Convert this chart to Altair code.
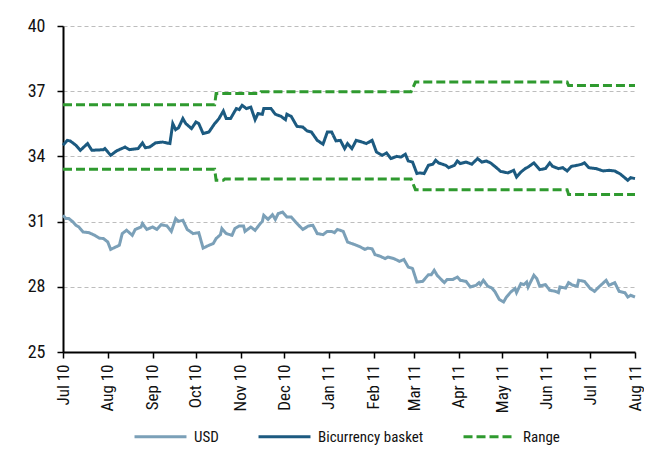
import altair as alt
import pandas as pd

# ---- data ----
basket_dates = [
    "2010-07-01","2010-07-04","2010-07-06","2010-07-10","2010-07-13","2010-07-18","2010-07-21","2010-07-29",
    "2010-07-30","2010-08-03","2010-08-07","2010-08-13","2010-08-16","2010-08-22","2010-08-25","2010-08-27",
    "2010-08-30","2010-09-03","2010-09-08","2010-09-13","2010-09-15","2010-09-17","2010-09-19","2010-09-22",
    "2010-09-24","2010-09-28","2010-10-01","2010-10-03","2010-10-06","2010-10-10","2010-10-14","2010-10-17",
    "2010-10-20","2010-10-22","2010-10-25","2010-10-29","2010-10-31","2010-11-02","2010-11-05","2010-11-08",
    "2010-11-11","2010-11-13","2010-11-16","2010-11-17","2010-11-22","2010-11-25","2010-11-29","2010-12-02",
    "2010-12-03","2010-12-06","2010-12-10","2010-12-14","2010-12-17","2010-12-20","2010-12-24","2010-12-28",
    "2010-12-31","2011-01-03","2011-01-06","2011-01-09","2011-01-12","2011-01-14","2011-01-17","2011-01-20",
    "2011-01-24","2011-01-27","2011-01-31","2011-02-03","2011-02-07","2011-02-10","2011-02-13","2011-02-17",
    "2011-02-20","2011-02-23","2011-02-25","2011-02-28","2011-03-03","2011-03-05","2011-03-08","2011-03-11",
    "2011-03-14","2011-03-16","2011-03-18","2011-03-23","2011-03-25","2011-03-29","2011-03-31","2011-04-02",
    "2011-04-06","2011-04-10","2011-04-14","2011-04-17","2011-04-20","2011-04-23","2011-04-26","2011-04-30",
    "2011-05-05","2011-05-09","2011-05-11","2011-05-14","2011-05-17","2011-05-19","2011-05-23","2011-05-27",
    "2011-05-31","2011-06-03","2011-06-05","2011-06-09","2011-06-12","2011-06-15","2011-06-18","2011-06-22",
    "2011-06-25","2011-06-27","2011-06-30","2011-07-05","2011-07-10","2011-07-14","2011-07-18","2011-07-22",
    "2011-07-27","2011-07-29","2011-08-01",
]
basket_values = [
    34.51,34.74,34.71,34.51,34.28,34.59,34.28,34.31,
    34.36,34.05,34.25,34.43,34.31,34.36,34.62,34.40,
    34.43,34.62,34.66,34.59,35.51,35.23,35.32,35.74,
    35.51,35.28,35.58,35.51,35.05,35.12,35.51,35.74,
    36.09,35.74,35.74,36.20,36.15,36.35,36.20,36.27,
    35.69,35.97,35.94,36.20,36.20,35.94,35.84,35.69,
    35.94,35.84,35.38,35.35,35.17,35.12,34.74,34.56,
    35.12,35.12,34.71,34.74,34.36,34.59,34.36,34.74,
    34.66,34.59,34.74,34.20,34.05,34.16,33.90,34.00,
    33.97,34.10,33.79,33.74,33.21,33.24,33.21,33.59,
    33.64,33.82,33.70,33.59,33.48,33.59,33.79,33.67,
    33.74,33.64,33.90,33.74,33.79,33.70,33.54,33.31,
    33.24,33.36,33.05,33.28,33.44,33.51,33.70,33.39,
    33.44,33.70,33.54,33.44,33.48,33.33,33.54,33.59,
    33.64,33.70,33.48,33.44,33.33,33.36,33.33,33.18,
    32.90,33.02,32.98,
]

usd_dates = [
    "2010-07-01","2010-07-03","2010-07-05","2010-07-08","2010-07-10","2010-07-12","2010-07-15","2010-07-19",
    "2010-07-23","2010-07-26","2010-07-29","2010-08-01","2010-08-03","2010-08-09","2010-08-11","2010-08-14",
    "2010-08-18","2010-08-20","2010-08-24","2010-08-25","2010-08-28","2010-09-01","2010-09-04","2010-09-07",
    "2010-09-11","2010-09-14","2010-09-17","2010-09-19","2010-09-22","2010-09-25","2010-09-29","2010-10-03",
    "2010-10-06","2010-10-10","2010-10-13","2010-10-15","2010-10-18","2010-10-19","2010-10-22","2010-10-26",
    "2010-10-28","2010-10-31","2010-11-03","2010-11-04","2010-11-08","2010-11-11","2010-11-14","2010-11-16",
    "2010-11-17","2010-11-20","2010-11-23","2010-11-25","2010-11-27","2010-11-30","2010-12-03","2010-12-06",
    "2010-12-10","2010-12-14","2010-12-18","2010-12-21","2010-12-24","2010-12-28","2010-12-31","2011-01-03",
    "2011-01-05","2011-01-07","2011-01-11","2011-01-14","2011-01-16","2011-01-19","2011-01-23","2011-01-26",
    "2011-01-28","2011-01-31","2011-02-02","2011-02-05","2011-02-09","2011-02-11","2011-02-15","2011-02-19",
    "2011-02-22","2011-02-25","2011-02-28","2011-03-03","2011-03-07","2011-03-11","2011-03-13","2011-03-15",
    "2011-03-17","2011-03-22","2011-03-24","2011-03-28","2011-03-31","2011-04-02","2011-04-06","2011-04-09",
    "2011-04-13","2011-04-15","2011-04-16","2011-04-18","2011-04-21","2011-04-24","2011-04-26","2011-04-29",
    "2011-05-02","2011-05-04","2011-05-07","2011-05-10","2011-05-11","2011-05-14","2011-05-16","2011-05-18",
    "2011-05-19","2011-05-23","2011-05-25","2011-05-27","2011-05-31","2011-06-03","2011-06-07","2011-06-09",
    "2011-06-10","2011-06-14","2011-06-16","2011-06-19","2011-06-22","2011-06-23","2011-06-27","2011-07-01",
    "2011-07-04","2011-07-07","2011-07-12","2011-07-14","2011-07-18","2011-07-21","2011-07-25","2011-07-27",
    "2011-07-29","2011-08-01",
]
usd_values = [
    31.29,31.14,31.14,30.98,30.83,30.75,30.52,30.49,
    30.37,30.24,30.22,30.06,29.72,29.91,30.45,30.60,
    30.37,30.64,30.75,30.91,30.64,30.75,30.64,30.86,
    30.80,30.55,31.14,31.01,31.06,30.64,30.45,30.49,
    29.78,29.91,29.99,30.22,30.40,30.68,30.45,30.37,
    30.68,30.80,30.80,30.55,30.75,30.60,30.86,31.01,
    31.29,31.10,31.32,31.10,31.37,31.44,31.21,31.21,
    30.91,30.64,30.80,30.83,30.45,30.40,30.55,30.55,
    30.49,30.64,30.55,30.06,30.01,29.94,29.83,29.72,
    29.78,29.75,29.48,29.42,29.30,29.37,29.30,29.17,
    29.26,28.91,28.84,28.22,28.25,28.56,28.56,28.76,
    28.53,28.19,28.34,28.34,28.45,28.30,28.25,27.99,
    28.07,28.19,28.10,28.30,28.03,27.94,27.78,27.42,
    27.30,27.53,27.76,27.92,27.73,28.15,28.10,28.22,
    27.99,28.53,28.38,28.03,28.10,27.84,27.79,27.73,
    27.99,27.94,28.19,28.07,28.03,28.30,28.25,27.92,
    27.79,27.99,28.30,28.07,28.19,27.79,27.73,27.53,
    27.61,27.53,
]

range_upper_dates = ["2010-07-01","2010-10-14","2010-10-15","2010-11-14","2010-11-15",
                     "2011-02-27","2011-03-02","2011-06-15","2011-06-16","2011-08-01"]
range_upper_values = [36.38,36.38,36.89,36.89,36.97,36.98,37.42,37.42,37.26,37.26]
range_lower_dates = ["2010-07-01","2010-10-14","2010-10-15","2010-10-20","2010-10-21",
                     "2011-02-27","2011-03-02","2011-06-15","2011-06-16","2011-08-01"]
range_lower_values = [33.41,33.41,32.90,32.90,32.96,32.96,32.47,32.47,32.25,32.25]

month_ticks = ["2010-07-01","2010-08-01","2010-09-01","2010-10-01","2010-11-01","2010-12-01",
               "2011-01-01","2011-02-01","2011-03-01","2011-04-01","2011-05-01","2011-06-01",
               "2011-07-01","2011-08-01"]
y_ticks = [25, 28, 31, 34, 37, 40]

series_names = ["USD", "Bicurrency basket", "Range"]
series_colors = ["#7ba0b8", "#1c5a80", "#2f9a2f"]

# ---- build the table ----
frames = [
    pd.DataFrame({"date": usd_dates, "value": usd_values, "series": "USD", "part": "usd"}),
    pd.DataFrame({"date": basket_dates, "value": basket_values, "series": "Bicurrency basket", "part": "basket"}),
    pd.DataFrame({"date": range_upper_dates, "value": range_upper_values, "series": "Range", "part": "upper"}),
    pd.DataFrame({"date": range_lower_dates, "value": range_lower_values, "series": "Range", "part": "lower"}),
]
df = pd.concat(frames, ignore_index=True)

FONT = "Roboto Condensed, Roboto, sans-serif"

x_enc = alt.X(
    "date:T",
    scale=alt.Scale(type="utc", domain=["2010-07-01", "2011-08-01"], nice=False),
    axis=alt.Axis(
        title=None, format="%b %y", values=month_ticks, labelAngle=-90,
        grid=False, domainColor="#000", domainWidth=2, tickColor="#000", tickWidth=1.5,
        tickSize=6, labelPadding=6, labelFontSize=17, labelFont=FONT, labelColor="#111",
        labelOverlap=False, labelFlush=False,
    ),
)
y_enc = alt.Y(
    "value:Q",
    scale=alt.Scale(domain=[25, 40], nice=False, zero=False),
    axis=alt.Axis(
        title=None, values=y_ticks, grid=True, gridColor="#bdbdbd", gridDash=[4, 3], gridWidth=1,
        domainColor="#000", domainWidth=2, tickColor="#000", tickWidth=1.5, tickSize=6,
        labelPadding=12, labelFontSize=18, labelFont=FONT, labelColor="#111",
    ),
)

chart = (
    alt.Chart(df)
    .mark_line(strokeWidth=3, interpolate="linear")
    .encode(
        x=x_enc,
        y=y_enc,
        color=alt.Color(
            "series:N",
            scale=alt.Scale(domain=series_names, range=series_colors),
            legend=alt.Legend(
                title=None, orient="none", legendX=70, legendY=383, direction="horizontal",
                symbolType="stroke", symbolSize=2700, symbolStrokeWidth=3,
                labelFont=FONT, labelFontSize=15, labelColor="#111", labelOffset=6,
                columnPadding=33,
            ),
        ),
        strokeDash=alt.StrokeDash(
            "series:N",
            scale=alt.Scale(domain=series_names, range=[[1, 0], [1, 0], [9, 4]]),
            legend=None,
        ),
        detail="part:N",
        order=alt.Order("date:T"),
    )
    .properties(
        width=572, height=326,
        autosize=alt.AutoSizeParams(type="none"),
        padding={"left": 55, "top": 18, "right": 9, "bottom": 96},
    )
    .configure_view(stroke=None)
)

chart.save("out.html", embed_options={"renderer": "svg", "actions": False})
